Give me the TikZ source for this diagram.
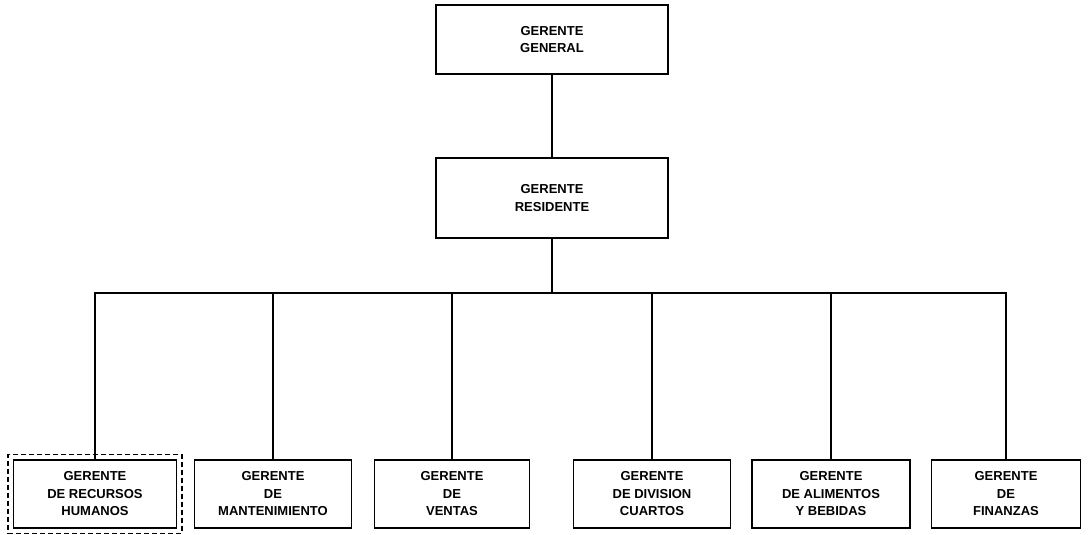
\documentclass[tikz,border=0pt]{standalone}
\usepackage{fontspec}
\setmainfont{Liberation Sans}
\usetikzlibrary{fit}
\begin{document}
\begin{tikzpicture}[x=1pt,y=-1pt,
  box/.style={draw, line width=1.7pt, align=center, inner sep=0pt,
    font=\fontsize{13}{17.5}\selectfont\bfseries},
  conn/.style={line width=1.7pt},
  dashbox/.style={draw, line width=1.5pt, dash pattern=on 5pt off 3pt, inner sep=4.5pt}]
\useasboundingbox (0,0) rectangle (1088,535);
\node[box, minimum width=232pt, minimum height=69pt] (gg) at (552,39.5) {GERENTE\\GENERAL};
\node[box, minimum width=232pt, minimum height=80pt] (gr) at (552,198) {GERENTE\\RESIDENTE};
\node[box, minimum width=163pt, minimum height=68pt] (hr) at (95,494) {GERENTE\\DE RECURSOS\\HUMANOS};
\node[box, minimum width=157pt, minimum height=68pt] (mant) at (273,494) {GERENTE\\DE\\MANTENIMIENTO};
\node[box, minimum width=155pt, minimum height=68pt] (vent) at (452,494) {GERENTE\\DE\\VENTAS};
\node[box, minimum width=157pt, minimum height=68pt] (cuar) at (652,494) {GERENTE\\DE DIVISION\\CUARTOS};
\node[box, minimum width=158pt, minimum height=68pt] (alim) at (831,494) {GERENTE\\DE ALIMENTOS\\Y BEBIDAS};
\node[box, minimum width=149pt, minimum height=68pt] (fin) at (1006,494) {GERENTE\\DE\\FINANZAS};
\node[dashbox, fit=(hr)] (hrout) {};
\coordinate (bus) at (552,293);
\draw[conn] (gg.south) -- (gr.north);
\draw[conn] (gr.south) -- (bus);
\draw[conn] (hr.north) -- (hr.north |- bus) -- (fin.north |- bus) -- (fin.north);
\draw[conn] (mant.north) -- (mant.north |- bus);
\draw[conn] (vent.north) -- (vent.north |- bus);
\draw[conn] (cuar.north) -- (cuar.north |- bus);
\draw[conn] (alim.north) -- (alim.north |- bus);
\end{tikzpicture}
\end{document}
